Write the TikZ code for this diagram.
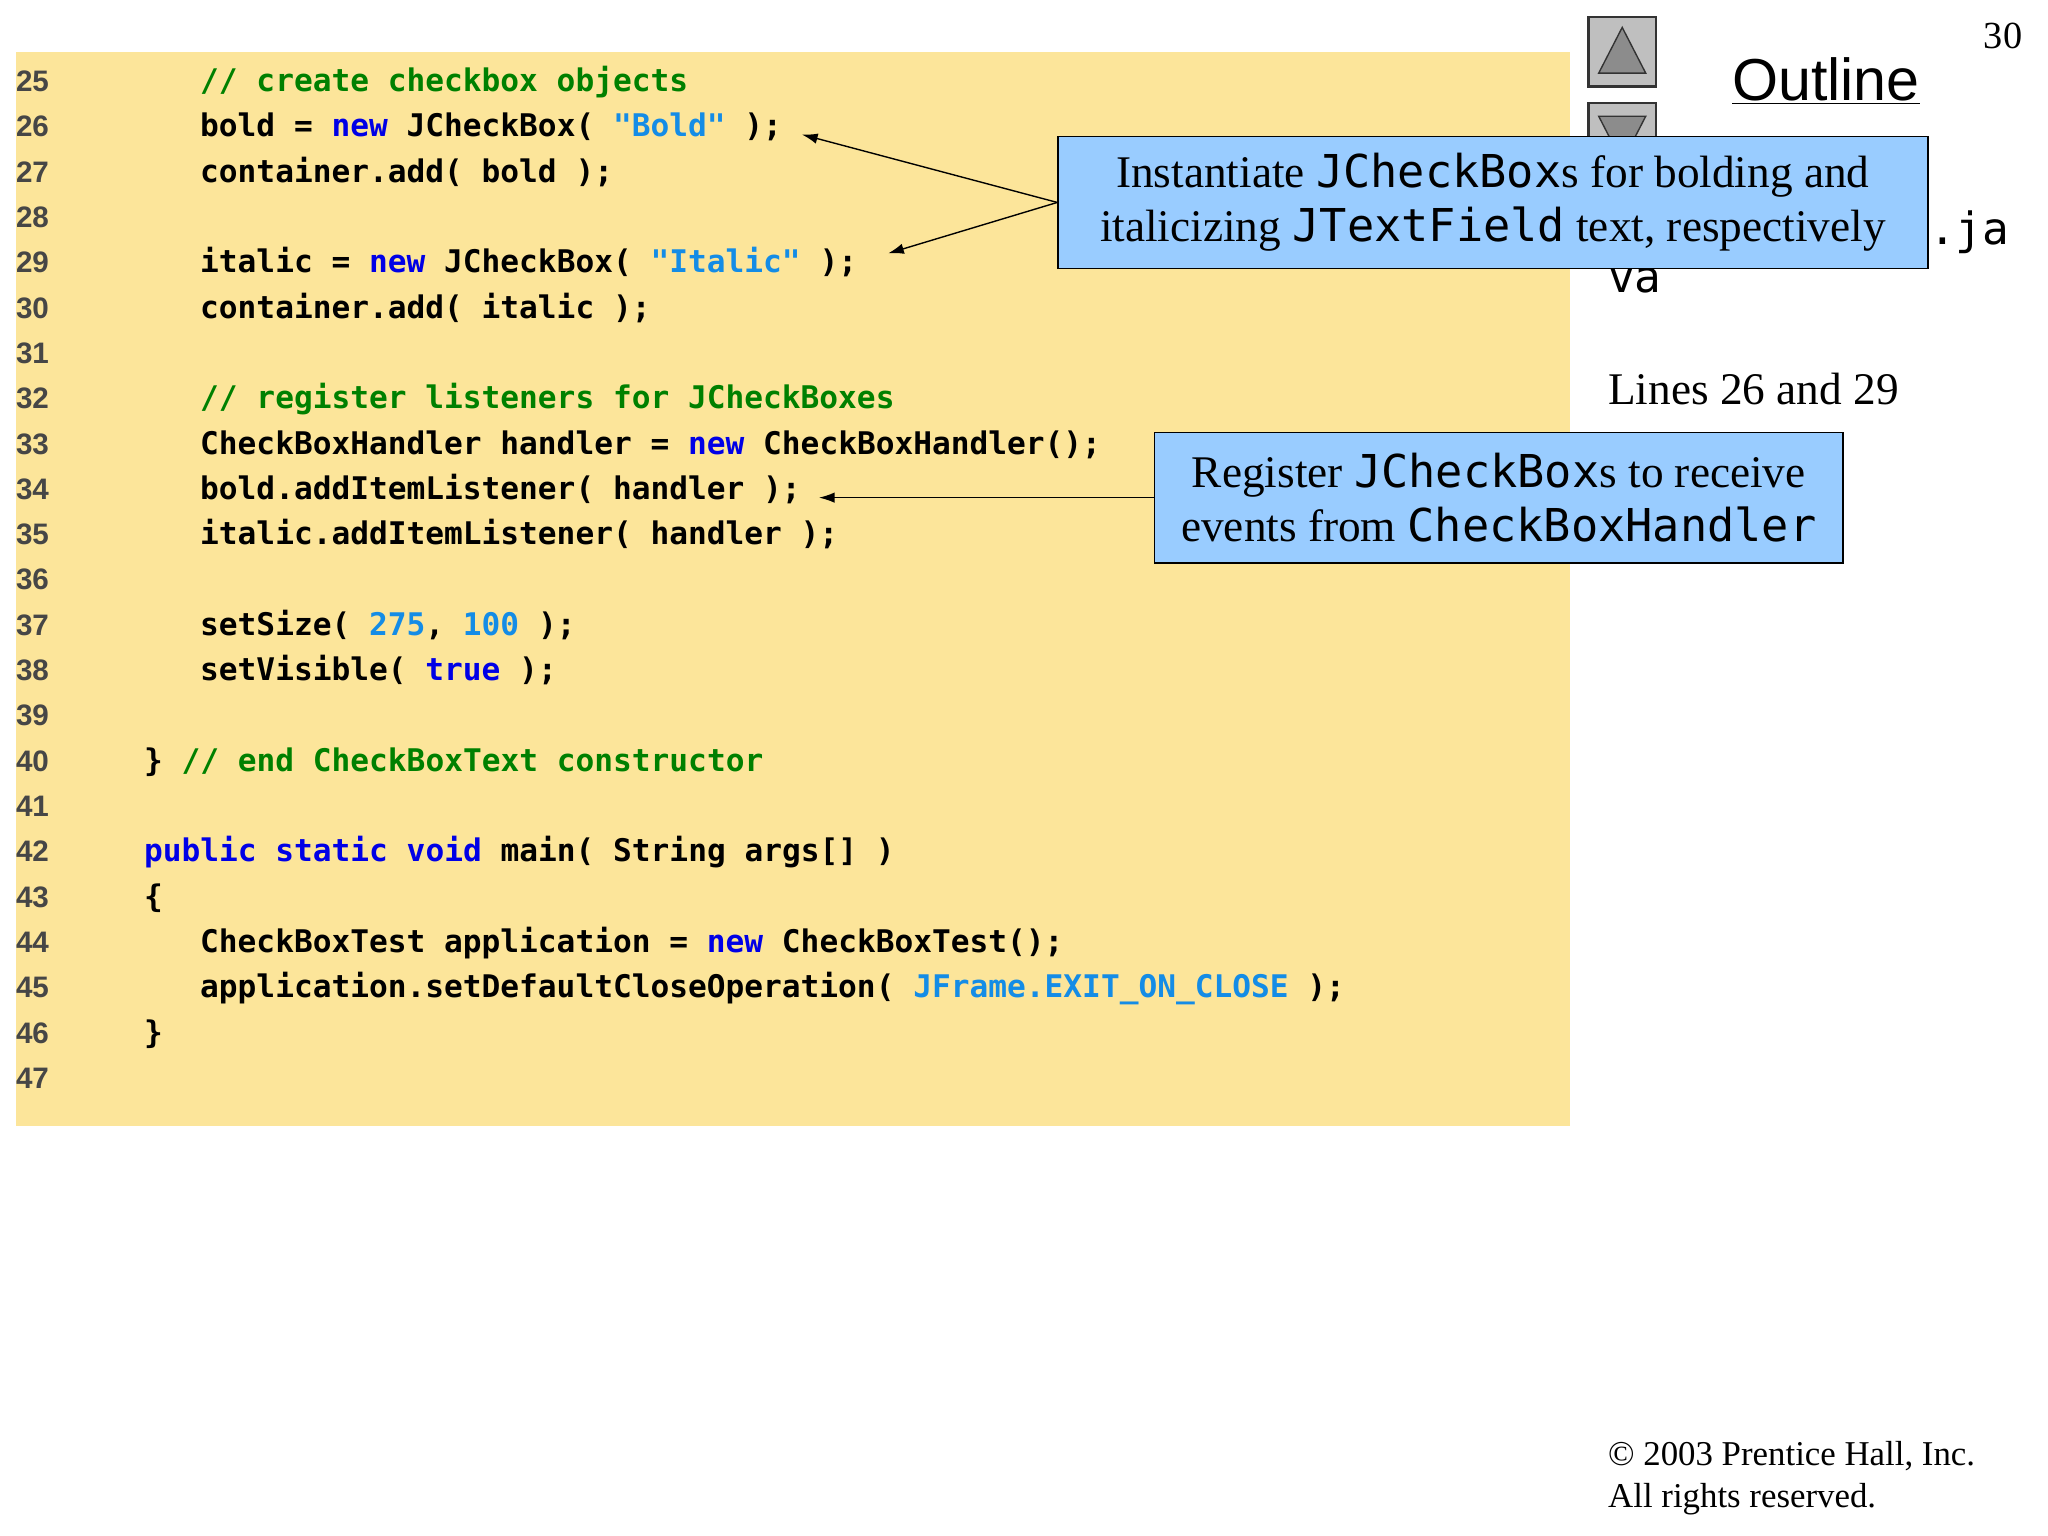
\documentclass[tikz,border=0pt]{standalone}
\usepackage{fontspec}
\setmainfont{Liberation Serif}
\setsansfont{Liberation Sans}
\setmonofont{DejaVu Sans Mono}
\usetikzlibrary{calc,shapes,arrows.meta}
\definecolor{codebg}{RGB}{252,229,154}
\definecolor{notebg}{RGB}{153,204,255}
\definecolor{kwblue}{RGB}{0,0,230}
\definecolor{cmgreen}{RGB}{0,128,0}
\definecolor{litblue}{RGB}{20,140,230}
\definecolor{numgray}{RGB}{70,70,70}
\newcommand{\kw}[1]{\textcolor{kwblue}{#1}}
\newcommand{\cm}[1]{\textcolor{cmgreen}{#1}}
\newcommand{\lit}[1]{\textcolor{litblue}{#1}}
\tikzset{%
  lnum/.style={anchor=base west,font=\sffamily\bfseries\fontsize{17}{20}\selectfont,text=numgray,inner sep=0pt},
  code/.style={anchor=base west,font=\ttfamily\bfseries\fontsize{17.9}{20}\selectfont,inner sep=0pt},
  note/.style={rectangle,draw,fill=notebg,align=center,line width=0.8pt,
    font=\fontsize{26}{31}\selectfont,inner sep=0pt},
  callout/.style={-{Latex[length=9pt,width=6pt]},line width=0.8pt},
  side/.style={anchor=base west,inner sep=0pt},
  button/.style={draw=black!80,fill=black!25,line width=1.5pt}
}
\newcommand{\mono}[1]{{\ttfamily #1}}
\begin{document}
\begin{tikzpicture}[x=0.75pt,y=-0.75pt]
  \useasboundingbox (0,0) rectangle (1568,1176);
  \fill[codebg] (12,40) rectangle (1202,862);

  % line numbers
  \foreach \n in {25,...,47}
    \node [lnum] (l\n) at (12,{70+(\n-25)*34.7}) {\n};

  % code
  \node [code] (c25) at (153,70) {\cm{// create checkbox objects}};
  \node [code] (c26) at (153,104.7) {bold = \kw{new} JCheckBox( \lit{"Bold"} );};
  \node [code] (c27) at (153,139.4) {container.add( bold );};
  \node [code] (c29) at (153,208.8) {italic = \kw{new} JCheckBox( \lit{"Italic"} );};
  \node [code] (c30) at (153,243.5) {container.add( italic );};
  \node [code] (c32) at (153,312.9) {\cm{// register listeners for JCheckBoxes}};
  \node [code] (c33) at (153,347.6) {CheckBoxHandler handler = \kw{new} CheckBoxHandler();};
  \node [code] (c34) at (153,382.3) {bold.addItemListener( handler );};
  \node [code] (c35) at (153,417) {italic.addItemListener( handler );};
  \node [code] (c37) at (153,486.4) {setSize( \lit{275}, \lit{100} );};
  \node [code] (c38) at (153,521.1) {setVisible( \kw{true} );};
  \node [code] (c40) at (110,590.5) {\} \cm{// end CheckBoxText constructor}};
  \node [code] (c42) at (110,659.9) {\kw{public static void} main( String args[] )};
  \node [code] (c43) at (110,694.6) {\{};
  \node [code] (c44) at (153,729.3) {CheckBoxTest application = \kw{new} CheckBoxTest();};
  \node [code] (c45) at (153,764) {application.setDefaultCloseOperation( \lit{JFrame.EXIT\_ON\_CLOSE} );};
  \node [code] (c46) at (110,798.7) {\}};

  % side panel
  \node [anchor=base east,font=\fontsize{22}{26}\selectfont] (page) at (1553,37) {30};
  \draw [button] (1216,13) rectangle (1268,66);
  \draw [button,line width=0.8pt,fill=black!45] (1242,21) -- (1260,56) -- (1224,56) -- cycle;
  \draw [button] (1216,79) rectangle (1268,132);
  \draw [button,line width=0.8pt,fill=black!45] (1242,124) -- (1260,89) -- (1224,89) -- cycle;
  \node [anchor=base,font=\sffamily\fontsize{34}{40}\selectfont] (outline) at (1398,77) {\underline{Outline}};
  \node [side,font=\ttfamily\fontsize{25.5}{34}\selectfont] (file) at (1231,187) {CheckBoxTest.ja};
  \node [side,font=\ttfamily\fontsize{25.5}{34}\selectfont] (file2) at (1231,224) {va};
  \node [side,font=\fontsize{26}{30}\selectfont] (lines) at (1231,310) {Lines 26 and 29};
  \node [side,font=\fontsize{20}{26}\selectfont] (copy) at (1231,1122) {\textcopyright{} 2003 Prentice Hall, Inc.};
  \node [side,font=\fontsize{20}{26}\selectfont] (rights) at (1231,1154) {All rights reserved.};

  % callouts
  \node [note,minimum width=666*0.75pt,minimum height=101*0.75pt] (inst) at (1143,155)
    {Instantiate \mono{JCheckBox}s for bolding and\\italicizing \mono{JTextField} text, respectively};
  \node [note,minimum width=527*0.75pt,minimum height=100*0.75pt] (reg) at (1147.5,381)
    {Register \mono{JCheckBox}s to receive\\events from \mono{CheckBoxHandler}};
  \coordinate (t26) at (614,103);
  \coordinate (t29) at (680,194);
  \coordinate (t34) at (reg.west -| 627,0);
  \draw [callout] (inst.west) -- (t26);
  \draw [callout] (inst.west) -- (t29);
  \draw [callout] (reg.west) -- (t34);
\end{tikzpicture}
\end{document}
